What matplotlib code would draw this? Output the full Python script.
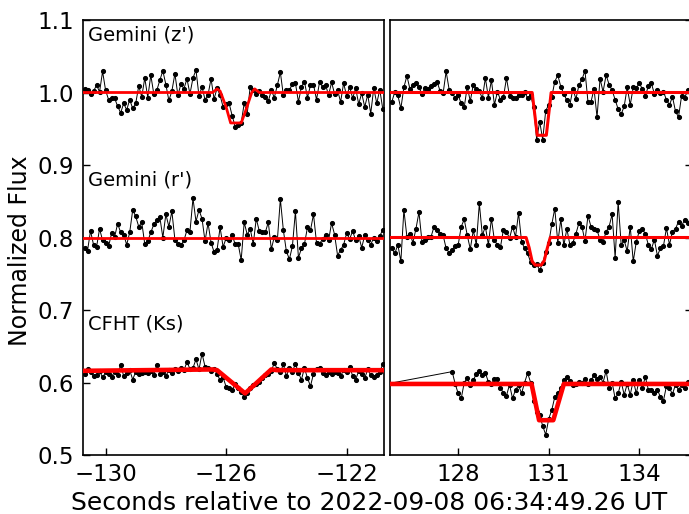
import numpy as np
import matplotlib
matplotlib.use("Agg")
import matplotlib.pyplot as plt

plt.rcParams['font.family'] = ['DejaVu Sans']

# ---------------- data ----------------
cadence = 0.1
t_left_start = -130.7
t_right_start = 125.8

z_left = [1.005, 1.003, 0.998, 1.002, 1.010, 1.001, 1.029, 1.003, 0.990, 0.993,
          0.992, 0.981, 0.972, 0.985, 0.976, 0.990, 0.978, 0.985, 1.009, 0.994,
          1.020, 0.993, 1.024, 0.998, 1.003, 1.017, 1.030, 1.011, 0.989, 1.002,
          1.026, 0.996, 1.012, 1.005, 1.019, 0.998, 1.020, 1.031, 0.995, 1.008,
          0.990, 0.997, 1.019, 0.991, 1.006, 0.996, 0.980, 0.984, 0.985, 0.968,
          0.953, 0.955, 0.958, 0.985, 0.971, 1.008, 1.004, 0.998, 1.002, 0.996,
          0.994, 0.988, 1.003, 0.993, 1.010, 1.028, 0.996, 1.004, 1.003, 1.012,
          1.013, 0.987, 1.008, 1.015, 0.993, 1.010, 1.011, 0.990, 1.014, 1.008,
          1.011, 0.996, 1.014, 0.998, 1.003, 0.987, 1.013, 0.995, 1.008, 0.992,
          1.006, 0.984, 0.999, 0.980, 0.997, 0.971, 1.006, 0.985, 1.004, 0.977]

z_right = [0.987, 1.001, 0.996, 0.978, 1.007, 1.023, 1.005, 1.010, 1.013, 1.007,
           0.998, 1.006, 1.005, 1.009, 1.012, 1.015, 1.002, 0.999, 1.029, 1.004,
           1.000, 0.992, 0.996, 0.985, 0.980, 1.008, 0.988, 1.011, 1.005, 1.002,
           0.992, 1.020, 0.993, 1.017, 0.983, 1.001, 0.990, 0.994, 1.020, 0.995,
           0.993, 0.993, 0.996, 0.997, 1.001, 0.992, 0.996, 0.980, 0.935, 0.960,
           0.935, 0.975, 0.983, 0.994, 1.015, 1.024, 1.008, 0.998, 0.989, 0.983,
           1.005, 0.991, 1.010, 1.018, 1.030, 0.987, 0.987, 1.005, 0.966, 1.019,
           1.001, 1.024, 1.011, 1.003, 0.990, 0.977, 0.970, 0.981, 1.007, 0.983,
           1.007, 1.006, 1.013, 1.005, 0.995, 1.009, 1.013, 0.998, 1.004, 1.000,
           1.001, 0.990, 0.983, 0.994, 0.974, 0.966, 0.995, 0.992, 1.003, 1.006]

r_left = [0.785, 0.782, 0.809, 0.790, 0.787, 0.812, 0.796, 0.793, 0.788, 0.806,
          0.801, 0.819, 0.807, 0.804, 0.790, 0.807, 0.838, 0.829, 0.815, 0.821,
          0.791, 0.795, 0.807, 0.818, 0.824, 0.828, 0.800, 0.832, 0.815, 0.836,
          0.797, 0.791, 0.789, 0.796, 0.810, 0.808, 0.854, 0.822, 0.838, 0.826,
          0.795, 0.820, 0.793, 0.780, 0.783, 0.814, 0.787, 0.799, 0.796, 0.803,
          0.791, 0.791, 0.769, 0.821, 0.804, 0.812, 0.791, 0.826, 0.809, 0.808,
          0.807, 0.821, 0.784, 0.801, 0.796, 0.853, 0.810, 0.781, 0.770, 0.788,
          0.836, 0.772, 0.785, 0.791, 0.814, 0.810, 0.832, 0.793, 0.791, 0.798,
          0.803, 0.796, 0.820, 0.804, 0.775, 0.783, 0.790, 0.806, 0.798, 0.809,
          0.796, 0.802, 0.786, 0.803, 0.797, 0.790, 0.800, 0.795, 0.802, 0.811]

r_right = [0.785, 0.778, 0.790, 0.767, 0.838, 0.801, 0.805, 0.793, 0.812, 0.835,
           0.794, 0.796, 0.801, 0.801, 0.815, 0.810, 0.805, 0.803, 0.785, 0.779,
           0.783, 0.788, 0.790, 0.815, 0.825, 0.803, 0.784, 0.810, 0.790, 0.847,
           0.803, 0.815, 0.790, 0.826, 0.796, 0.790, 0.787, 0.811, 0.808, 0.799,
           0.815, 0.801, 0.834, 0.794, 0.785, 0.778, 0.766, 0.762, 0.763, 0.755,
           0.765, 0.780, 0.792, 0.818, 0.840, 0.793, 0.825, 0.789, 0.812, 0.790,
           0.793, 0.805, 0.820, 0.815, 0.795, 0.830, 0.815, 0.812, 0.810, 0.797,
           0.794, 0.808, 0.815, 0.832, 0.772, 0.849, 0.790, 0.796, 0.781, 0.815,
           0.767, 0.794, 0.809, 0.812, 0.805, 0.790, 0.784, 0.797, 0.775, 0.785,
           0.788, 0.813, 0.790, 0.808, 0.812, 0.822, 0.816, 0.824, 0.820, 0.826]

ks_left = [0.612, 0.618, 0.614, 0.609, 0.611, 0.616, 0.607, 0.614, 0.612, 0.608,
           0.615, 0.611, 0.624, 0.609, 0.613, 0.617, 0.604, 0.615, 0.612, 0.613,
           0.614, 0.613, 0.616, 0.610, 0.624, 0.612, 0.615, 0.609, 0.617, 0.613,
           0.618, 0.616, 0.620, 0.617, 0.628, 0.619, 0.620, 0.632, 0.618, 0.640,
           0.622, 0.620, 0.616, 0.619, 0.612, 0.603, 0.607, 0.594, 0.592, 0.590,
           0.598, 0.593, 0.587, 0.580, 0.586, 0.593, 0.596, 0.598, 0.601, 0.606,
           0.610, 0.612, 0.616, 0.627, 0.618, 0.614, 0.625, 0.609, 0.620, 0.615,
           0.626, 0.613, 0.604, 0.620, 0.606, 0.595, 0.612, 0.618, 0.620, 0.613,
           0.610, 0.614, 0.612, 0.615, 0.613, 0.609, 0.617, 0.614, 0.622, 0.609,
           0.604, 0.616, 0.612, 0.606, 0.618, 0.610, 0.607, 0.611, 0.614, 0.626]

ks_right_gap_t = 125.5
ks_right_gap_f = 0.597
ks_right_start = 127.8
ks_right = [0.615, 0.598, 0.585, 0.578, 0.600, 0.606, 0.597, 0.603, 0.612, 0.616,
            0.610, 0.613, 0.601, 0.598, 0.605, 0.605, 0.593, 0.585, 0.582, 0.597,
            0.578, 0.590, 0.596, 0.585, 0.600, 0.613, 0.600, 0.575, 0.560, 0.555,
            0.540, 0.528, 0.550, 0.562, 0.580, 0.585, 0.592, 0.603, 0.608, 0.602,
            0.596, 0.598, 0.601, 0.600, 0.605, 0.598, 0.603, 0.610, 0.605, 0.608,
            0.600, 0.616, 0.592, 0.600, 0.578, 0.585, 0.601, 0.583, 0.598, 0.583,
            0.603, 0.585, 0.604, 0.592, 0.608, 0.590, 0.589, 0.586, 0.590, 0.580,
            0.575, 0.595, 0.592, 0.584, 0.597, 0.590, 0.596, 0.593, 0.601, 0.598]

# fitted occultation models (knots)
z_left_model_t = [-131.0, -126.45, -126.3, -126.2, -126.0, -125.85, -125.5, -125.35, -125.15, -125.05, -124.9, -120.0]
z_left_model_f = [1.0, 1.0, 1.005, 1.002, 0.980, 0.958, 0.958, 0.975, 1.000, 1.005, 1.0, 1.0]
z_right_model_t = [125.0, 130.45, 130.62, 130.92, 131.08, 136.5]
z_right_model_f = [1.0, 1.0, 0.941, 0.941, 1.0, 1.0]
r_left_model_t = [-131.0, -120.0]
r_left_model_f = [0.8, 0.8]
r_right_model_t = [125.0, 130.25, 130.35, 130.45, 130.55, 130.75, 130.85, 130.95, 131.05, 136.5]
r_right_model_f = [0.8, 0.8, 0.786, 0.767, 0.762, 0.762, 0.768, 0.785, 0.8, 0.8]
ks_left_model_t = [-131.0, -126.45, -126.3, -125.37, -124.5, -124.3, -120.0]
ks_left_model_f = [0.616, 0.618, 0.617, 0.585, 0.618, 0.617, 0.617]
ks_right_model_t = [125.0, 130.43, 130.68, 131.15, 131.5, 136.5]
ks_right_model_f = [0.598, 0.598, 0.548, 0.548, 0.598, 0.598]

band_labels = ["Gemini (z')", "Gemini (r')", "CFHT (Ks)"]
band_label_y = [1.08, 0.88, 0.68]

left_ticks = [-130, -126, -122]
right_ticks = [128, 131, 134]
y_ticks = [0.5, 0.6, 0.7, 0.8, 0.9, 1.0, 1.1]

# ---------------- plot ----------------
fig = plt.figure(figsize=(6.89, 5.14), dpi=100)
W, H = 689, 514
ax1 = fig.add_axes([82.7 / W, (H - 455) / H, 301.3 / W, 435 / H])
ax2 = fig.add_axes([390 / W, (H - 455) / H, 301.8 / W, 435 / H])

t_left = t_left_start + cadence * np.arange(len(z_left))
t_right = t_right_start + cadence * np.arange(len(z_right))
t_ks_right = np.concatenate([[ks_right_gap_t], ks_right_start + cadence * np.arange(len(ks_right))])
f_ks_right = [ks_right_gap_f] + ks_right

data_kw = dict(color='k', lw=0.7, marker='o', ms=2.7, mfc='k', mec='k', zorder=2)

for ax, series in [
    (ax1, [(t_left, z_left), (t_left, r_left), (t_left, ks_left)]),
    (ax2, [(t_right, z_right), (t_right, r_right), (t_ks_right, f_ks_right)]),
]:
    for t, f in series:
        ax.plot(t, f, **data_kw)

ax1.plot(z_left_model_t, z_left_model_f, color='red', lw=2.0, zorder=3)
ax1.plot(r_left_model_t, r_left_model_f, color='red', lw=2.0, zorder=3)
ax1.plot(ks_left_model_t, ks_left_model_f, color='red', lw=3.3, zorder=3)
ax2.plot(z_right_model_t, z_right_model_f, color='red', lw=2.2, zorder=3)
ax2.plot(r_right_model_t, r_right_model_f, color='red', lw=2.2, zorder=3)
ax2.plot(ks_right_model_t, ks_right_model_f, color='red', lw=3.3, zorder=3)

for lab, y in zip(band_labels, band_label_y):
    ax1.text(-130.6, y, lab, fontsize=14, ha='left', va='center')

ax1.set_xlim(-130.76, -120.76)
ax2.set_xlim(125.74, 135.74)
for ax in (ax1, ax2):
    ax.set_ylim(0.5, 1.1)
    ax.set_yticks(y_ticks)
    ax.tick_params(direction='in', length=5, width=1, labelsize=16.5, pad=6)
    for s in ax.spines.values():
        s.set_linewidth(1.2)
ax1.set_xticks(left_ticks)
ax2.set_xticks(right_ticks)
ax1.set_yticklabels([f"{v:.1f}" for v in y_ticks])
ax2.yaxis.tick_right()
ax2.tick_params(labelright=False)

ax1.set_ylabel("Normalized Flux", fontsize=17)
ax1.yaxis.set_label_coords(-0.168, 0.47)
fig.text(369 / W, 0.022, "Seconds relative to 2022-09-08 06:34:49.26 UT",
         fontsize=18, ha='center', va='center')

fig.savefig("out.png", dpi=100)
